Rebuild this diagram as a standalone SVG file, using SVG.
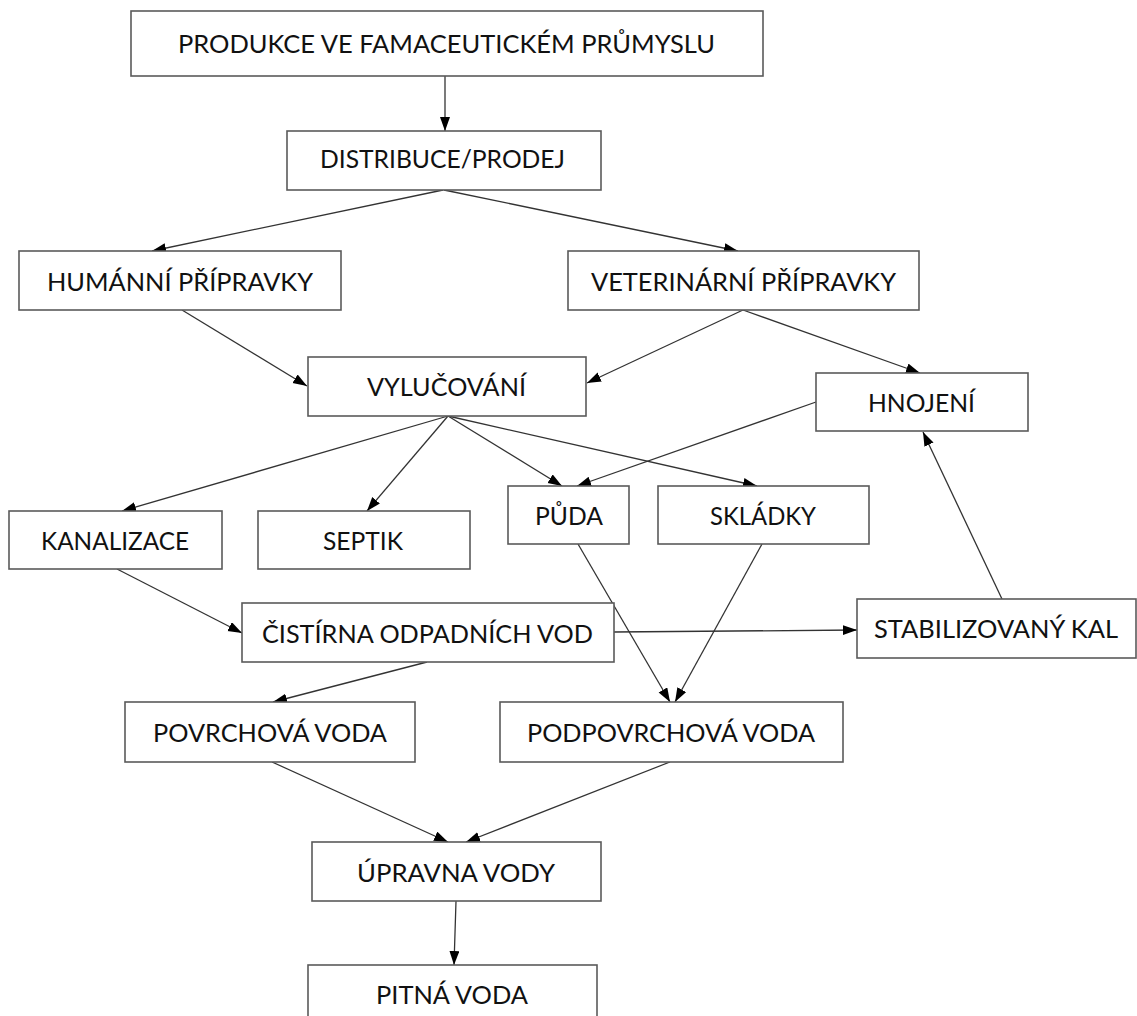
<svg xmlns="http://www.w3.org/2000/svg" width="1137" height="1016" viewBox="0 0 1137 1016">
<style>
.box{fill:#fff;stroke:#5a5a5a;stroke-width:1.6}
.lbl{font-family:Lato,"Open Sans","Liberation Sans",sans-serif;font-size:25px;fill:#111;text-anchor:start}
.edge{stroke:#333;stroke-width:1.3;fill:none;marker-end:url(#ah)}
</style>
<defs>
<marker id="ah" markerUnits="userSpaceOnUse" markerWidth="15" markerHeight="11" refX="14" refY="5" orient="auto">
<path d="M0,0 L14,5 L0,10 z" fill="#000"/>
</marker>
</defs>
<rect width="1137" height="1016" fill="#fff"/>
<g id="connectors">
<line class="edge" x1="445" y1="76" x2="445" y2="131"/>
<line class="edge" x1="443" y1="190" x2="152" y2="251"/>
<line class="edge" x1="444" y1="190" x2="738" y2="251"/>
<line class="edge" x1="182" y1="310" x2="307" y2="386"/>
<line class="edge" x1="743" y1="310" x2="587" y2="383"/>
<line class="edge" x1="743" y1="310" x2="920" y2="373"/>
<line class="edge" x1="816" y1="402" x2="577" y2="486"/>
<line class="edge" x1="448" y1="416" x2="122" y2="511"/>
<line class="edge" x1="448" y1="416" x2="367" y2="511"/>
<line class="edge" x1="448" y1="416" x2="562" y2="486"/>
<line class="edge" x1="448" y1="416" x2="757" y2="486"/>
<line class="edge" x1="117" y1="569" x2="242" y2="633"/>
<line class="edge" x1="614" y1="632" x2="857" y2="630"/>
<line class="edge" x1="1002" y1="599" x2="923" y2="432"/>
<line class="edge" x1="427" y1="662" x2="273" y2="702"/>
<line class="edge" x1="578" y1="544" x2="670" y2="702"/>
<line class="edge" x1="762" y1="544" x2="675" y2="702"/>
<line class="edge" x1="272" y1="762" x2="448" y2="842"/>
<line class="edge" x1="670" y1="762" x2="466" y2="842"/>
<line class="edge" x1="456" y1="901" x2="454" y2="965"/>
</g>
<g id="produkce"><rect class="box" x="131" y="11" width="632" height="65"/><text class="lbl" x="178" y="53" textLength="537" lengthAdjust="spacingAndGlyphs">PRODUKCE VE FAMACEUTICKÉM PRŮMYSLU</text></g>
<g id="distribuce"><rect class="box" x="287" y="131" width="314" height="59"/><text class="lbl" x="320" y="168" textLength="245" lengthAdjust="spacingAndGlyphs">DISTRIBUCE/PRODEJ</text></g>
<g id="humanni"><rect class="box" x="19" y="251" width="322" height="59"/><text class="lbl" x="47" y="291" textLength="266" lengthAdjust="spacingAndGlyphs">HUMÁNNÍ PŘÍPRAVKY</text></g>
<g id="veterinarni"><rect class="box" x="568" y="251" width="351" height="59"/><text class="lbl" x="591" y="291" textLength="305" lengthAdjust="spacingAndGlyphs">VETERINÁRNÍ PŘÍPRAVKY</text></g>
<g id="vylucovani"><rect class="box" x="308" y="357" width="278" height="59"/><text class="lbl" x="367" y="396" textLength="159" lengthAdjust="spacingAndGlyphs">VYLUČOVÁNÍ</text></g>
<g id="hnojeni"><rect class="box" x="816" y="373" width="212" height="58"/><text class="lbl" x="868" y="412" textLength="107" lengthAdjust="spacingAndGlyphs">HNOJENÍ</text></g>
<g id="kanalizace"><rect class="box" x="9" y="511" width="213" height="58"/><text class="lbl" x="41" y="550" textLength="148" lengthAdjust="spacingAndGlyphs">KANALIZACE</text></g>
<g id="septik"><rect class="box" x="258" y="511" width="212" height="58"/><text class="lbl" x="323" y="550" textLength="80" lengthAdjust="spacingAndGlyphs">SEPTIK</text></g>
<g id="puda"><rect class="box" x="508" y="486" width="121" height="58"/><text class="lbl" x="535" y="525" textLength="68" lengthAdjust="spacingAndGlyphs">PŮDA</text></g>
<g id="skladky"><rect class="box" x="658" y="486" width="211" height="58"/><text class="lbl" x="710" y="525" textLength="106" lengthAdjust="spacingAndGlyphs">SKLÁDKY</text></g>
<g id="cistirna"><rect class="box" x="242" y="603" width="372" height="59"/><text class="lbl" x="262" y="643" textLength="331" lengthAdjust="spacingAndGlyphs">ČISTÍRNA ODPADNÍCH VOD</text></g>
<g id="stabilizovany"><rect class="box" x="857" y="599" width="279" height="59"/><text class="lbl" x="874" y="638" textLength="244" lengthAdjust="spacingAndGlyphs">STABILIZOVANÝ KAL</text></g>
<g id="povrchova"><rect class="box" x="125" y="702" width="290" height="60"/><text class="lbl" x="153" y="742" textLength="234" lengthAdjust="spacingAndGlyphs">POVRCHOVÁ VODA</text></g>
<g id="podpovrchova"><rect class="box" x="500" y="702" width="343" height="60"/><text class="lbl" x="527" y="742" textLength="288" lengthAdjust="spacingAndGlyphs">PODPOVRCHOVÁ VODA</text></g>
<g id="upravna"><rect class="box" x="312" y="842" width="289" height="59"/><text class="lbl" x="357" y="882" textLength="198" lengthAdjust="spacingAndGlyphs">ÚPRAVNA VODY</text></g>
<g id="pitna"><rect class="box" x="308" y="965" width="289" height="60"/><text class="lbl" x="376" y="1004" textLength="152" lengthAdjust="spacingAndGlyphs">PITNÁ VODA</text></g>
</svg>
